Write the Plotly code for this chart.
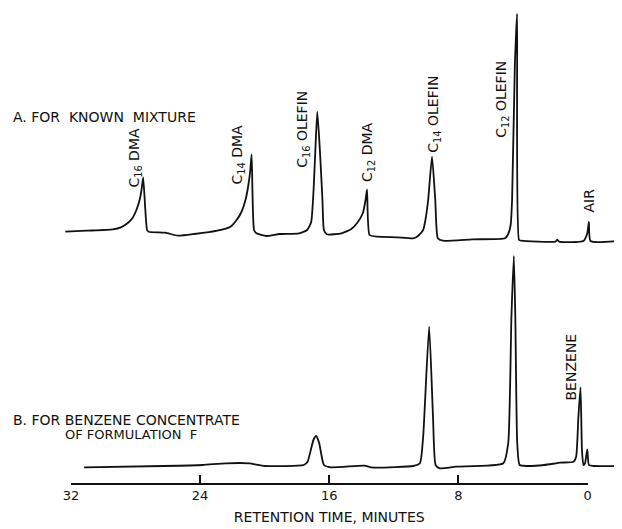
import plotly.graph_objects as go

# ---- data (retention time in minutes, relative detector response) ----
time_a = [32.36, 31.04, 29.42, 28.92, 28.51, 28.21, 27.96, 27.76, 27.64, 27.54, 27.30, 27.20,
          26.18, 25.38, 24.36, 22.95, 22.13, 21.75, 21.45, 21.20, 21.02, 20.90, 20.82, 20.67,
          20.52, 19.91, 19.09, 17.88, 17.38, 17.13, 16.98, 16.87, 16.75, 16.59, 16.43, 16.34,
          16.16, 15.25, 14.64, 14.28, 13.93, 13.76, 13.67, 13.51, 13.02, 11.80, 10.80, 10.51,
          10.19, 10.05, 9.88, 9.64, 9.44, 9.28, 8.97, 7.15, 5.12, 4.92, 4.77, 4.68, 4.51,
          4.37, 4.25, 4.11, 2.00, 1.88, 1.76, 0.26, 0.02, -0.08, -0.18, -1.88]
resp_a = [8.3, 9.3, 10.7, 12.7, 16.7, 21.7, 30, 40, 50, 62.7, 10, 8.3,
          7.3, 4.3, 6, 9.3, 13.3, 20, 28, 40, 55, 70, 85.7, 10,
          6.7, 4, 6, 6.7, 10, 18, 50, 90, 128.3, 90, 40, 10,
          5.7, 6.7, 11, 17, 26.7, 40, 50.7, 5, 3.3, 2.7, 1.7, 4,
          10, 20, 40, 83.3, 40, 1.7, -0.7, 0.7, 1.7, 6, 15, 40, 173.3,
          226, 0, -0.7, -1.7, 0.3, -1.7, -1, 6.7, 18, -1, -1]

time_b = [31.2, 26.26, 23.86, 22.42, 20.96, 20.00, 17.59, 17.35, 16.99, 16.82, 16.63, 16.34,
          15.91, 13.83, 13.43, 13.02, 10.80, 10.39, 10.19, 9.82, 9.58, 9.42, 9.17, 8.16,
          5.22, 4.92, 4.72, 4.57, 4.48, 4.36, 4.21, 3.71, 2.69, 1.68, 0.87, 0.71, 0.57,
          0.44, 0.35, 0.26, 0.16, 0.02, -0.08, -0.35, -1.88]
resp_b = [-1.3, 0, 1, 2.7, 2.7, 0, 1, 4.3, 26, 30, 22.7, 1,
          -1.3, 0.3, -1.3, -1.7, 0, 2.7, 29.3, 139.3, 49.3, 1, -2.3, -0.7,
          2.7, 22.7, 149.3, 210, 149.3, 22.7, 1, 0, 1, 3.3, 4.3, 9.3, 49.3,
          78.7, 16, 1, 2.7, 16.7, 1, 0, 0]

tick_vals = [32, 24, 16, 8, 0]
tick_text = ["32", "24", "16", "8", "0"]

labels_a = ["C<sub>16</sub> DMA", "C<sub>14</sub> DMA", "C<sub>16</sub> OLEFIN",
            "C<sub>12</sub> DMA", "C<sub>14</sub> OLEFIN", "C<sub>12</sub> OLEFIN", "AIR"]
labels_b = ["BENZENE"]

# page has an 8px body margin; the figure is sized to fit the 622x529 window
OFF = 8
W, H = 622 - OFF, 529 - OFF
FONT = "DejaVu Sans"
INK = "#111111"

fig = go.Figure()
fig.add_trace(go.Scatter(x=time_a, y=resp_a, mode="lines", xaxis="x", yaxis="y",
                         line=dict(color=INK, width=1.8, shape="spline", smoothing=0.5),
                         hoverinfo="skip", showlegend=False))
fig.add_trace(go.Scatter(x=time_b, y=resp_b, mode="lines", xaxis="x", yaxis="y2",
                         line=dict(color=INK, width=1.8, shape="spline", smoothing=0.5),
                         hoverinfo="skip", showlegend=False))
# invisible carrier so the retention-time axis is drawn
fig.add_trace(go.Scatter(x=tick_vals, y=[0] * len(tick_vals), xaxis="x2", yaxis="y3",
                         mode="markers", marker=dict(opacity=0), hoverinfo="skip",
                         showlegend=False))

# rotated peak labels: (time of label centre, response at label bottom)
pos_a = [(28.07, 50), (21.69, 53), (17.68, 70), (13.61, 56), (9.57, 85), (5.35, 100), (-0.06, 25)]
pos_b = [(1.03, 64)]
ann = []
for txt, (t, r) in zip(labels_a, pos_a):
    ann.append(dict(x=t, y=r, xref="x", yref="y", text=txt, textangle=-90, showarrow=False,
                    xanchor="center", yanchor="bottom", font=dict(family=FONT, size=14, color=INK)))
for txt, (t, r) in zip(labels_b, pos_b):
    ann.append(dict(x=t, y=r, xref="x", yref="y2", text=txt, textangle=-90, showarrow=False,
                    xanchor="center", yanchor="bottom", font=dict(family=FONT, size=14, color=INK)))

def px(p):
    return (p - OFF) / W

def py(p):
    return 1 - (p - OFF) / H

ann.append(dict(x=px(3), y=py(117), xref="paper", yref="paper", showarrow=False,
                text="A. FOR\u00a0 KNOWN\u00a0 MIXTURE", xanchor="left", yanchor="middle",
                font=dict(family=FONT, size=14, color=INK)))
ann.append(dict(x=px(3), y=py(420), xref="paper", yref="paper", showarrow=False,
                text="B. FOR BENZENE CONCENTRATE", xanchor="left", yanchor="middle",
                font=dict(family=FONT, size=14, color=INK)))
ann.append(dict(x=px(56), y=py(434), xref="paper", yref="paper", showarrow=False,
                text="OF FORMULATION\u00a0 F", xanchor="left", yanchor="middle",
                font=dict(family=FONT, size=13, color=INK)))

fig.update_layout(
    width=W, height=H,
    margin=dict(l=0, r=0, t=0, b=0),
    paper_bgcolor="white", plot_bgcolor="rgba(0,0,0,0)",
    hovermode=False,
    xaxis=dict(domain=[0, 1], range=[(591 - OFF) / 16.46, (591 - 622) / 16.46], visible=False),
    yaxis=dict(domain=[0, 1], range=[240 - 529, 240 - OFF], visible=False),
    yaxis2=dict(domain=[0, 1], range=[466 - 529, 466 - OFF], overlaying="y", visible=False),
    xaxis2=dict(domain=[px(64), px(591)], range=[32, 0], anchor="y3",
                showline=True, linecolor=INK, linewidth=1.6, showgrid=False, zeroline=False,
                ticks="inside", ticklen=8, tickwidth=1.6, tickcolor=INK,
                tickvals=tick_vals, ticktext=tick_text,
                tickfont=dict(family=FONT, size=13, color=INK),
                title=dict(text="RETENTION TIME, MINUTES", standoff=10,
                           font=dict(family=FONT, size=14, color=INK))),
    yaxis3=dict(domain=[(529 - 483) / H, 1], range=[0, 1], anchor="x2", visible=False),
    annotations=ann,
)

fig.write_html("out.html")
